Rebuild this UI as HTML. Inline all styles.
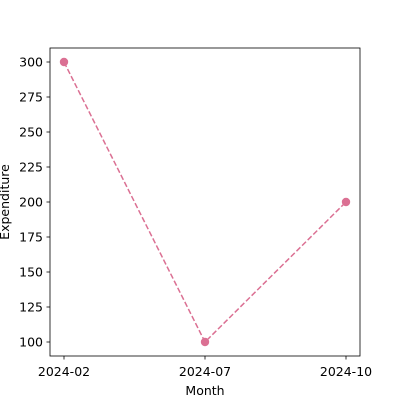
<!DOCTYPE html>
<html><head><meta charset="utf-8"><style>
body{margin:0;background:#fff;}
svg{display:block;font-family:"DejaVu Sans","Liberation Sans",sans-serif;}
</style></head><body>
<svg id="chart" width="400" height="400" viewBox="0 0 400 400">
<rect x="0" y="0" width="400" height="400" fill="#fff"/>
<g id="g"></g>
</svg>
<script>
const categories = ["2024-02","2024-07","2024-10"];
const values = [300,100,200];
const yTicks = [100,125,150,175,200,225,250,275,300];
const L=50,R=360,T=48,B=356;
const xScale=i=>64+i*141;
const yScale=v=>342-(v-100)*1.4;
const NS="http://www.w3.org/2000/svg";
const g=document.getElementById('g');
function mk(t,a){const e=document.createElementNS(NS,t);for(const k in a)e.setAttribute(k,a[k]);g.appendChild(e);return e;}
yTicks.forEach(v=>{
  const y=yScale(v);
  const tk=mk('line',{x1:L-3.5,x2:L,y1:y,y2:y,stroke:'#000','stroke-width':0.8});
  
  
  const t=mk('text',{x:L-7,y:y+4.5,'text-anchor':'end','font-size':12.5,fill:'#000'});
  t.textContent=v;
  
  
});
categories.forEach((c,i)=>{
  const x=xScale(i);
  const tk=mk('line',{x1:x,x2:x,y1:B,y2:B+3.5,stroke:'#000','stroke-width':0.8});
  
  
  const t=mk('text',{x:x,y:B+20,'text-anchor':'middle','font-size':12.5,fill:'#000'});
  t.textContent=c;
  
  
});
const line=mk('polyline',{points:values.map((v,i)=>xScale(i)+','+yScale(v)).join(' '),fill:'none',stroke:'#DB7093','stroke-width':1.5,'stroke-dasharray':'5.5,2.4'});


values.forEach((v,i)=>{
  const p=mk('circle',{cx:xScale(i),cy:yScale(v),r:4.2,fill:'#DB7093'});
  
  
});
const frame=mk('rect',{x:L,y:T,width:R-L,height:B-T,fill:'none',stroke:'#000','stroke-width':0.8});


const xl=mk('text',{x:205,y:395,'text-anchor':'middle','font-size':12.5,fill:'#000'});
xl.textContent='Month';


const yl=mk('text',{x:0,y:0,'text-anchor':'middle','font-size':12.5,fill:'#000',transform:'translate(9,202) rotate(-90)'});
yl.textContent='Expenditure';


</script>
</body></html>
